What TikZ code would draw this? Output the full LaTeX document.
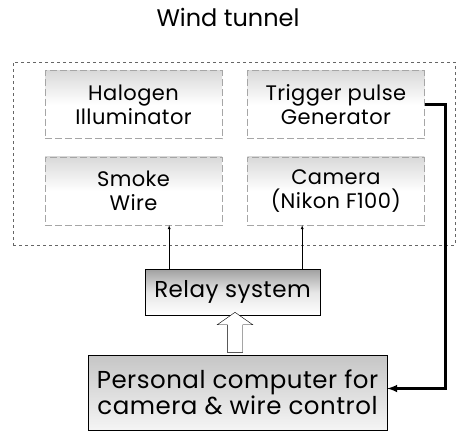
\documentclass[tikz,border=0pt]{standalone}
\usepackage{fontspec}
\setmainfont{Poppins}
\usepackage{tikz}
\usetikzlibrary{shapes,arrows,positioning,fit,calc}

\begin{document}
\begin{tikzpicture}[
  x=1pt,y=1pt,
  node distance=18pt and 25pt,
  every node/.style={font=\fontsize{21}{24}\selectfont\addfontfeature{LetterSpace=2}},
  unit/.style={rectangle,align=center,draw=gray!70,dash pattern=on 7pt off 3pt,thin,top color=gray!30,bottom color=white,middle color=white,minimum width=177pt,minimum height=68pt,inner sep=2pt},
  relaybox/.style={rectangle,align=center,draw=black,thin,top color=gray!75,bottom color=white,middle color=white!80!gray,minimum width=175pt,minimum height=46pt,inner sep=2pt,font=\fontsize{23}{26}\selectfont\addfontfeature{LetterSpace=2}},
  pcbox/.style={rectangle,align=center,draw=black,thin,top color=gray!45,bottom color=gray!8,minimum width=299pt,minimum height=75pt,inner sep=2pt,font=\fontsize{24.5}{25}\selectfont\addfontfeature{LetterSpace=2}},
  arrow/.style={->,>=latex,thin},
  bigarrow/.style={-latex,line width=2.4pt}
]
\useasboundingbox (0,0) rectangle (458,-432);

\node[font=\fontsize{24}{26}\selectfont] (title) at (228,-17) {Wind tunnel};

\node[unit] (halogen) at (133.5,-104.5) {Halogen\\Illuminator};
\node[unit,right=of halogen] (trigger) {Trigger pulse\\Generator};
\node[unit,below=of halogen] (smoke) {Smoke\\Wire};
\node[unit,below=of trigger] (camera) {Camera\\(Nikon F100)};

% wind tunnel frame
\node[draw=gray!80!black,dashed,thin,fit={(13,-62) (455,-245)},inner sep=0pt] (tunnel) {};

\node[relaybox] (relay) at (232.5,-292) {Relay system};
\node[pcbox] (pc) at (237.5,-392.5) {Personal computer for\\camera \& wire control};

\draw[arrow] (relay.north -| smoke.south east) ++(-53,0) coordinate (r1) -- (r1 |- smoke.south);
\draw[arrow] (relay.north -| camera.south west) ++(55,0) coordinate (r2) -- (r2 |- camera.south);

\node[single arrow,draw=black,fill=white,thin,rotate=90,inner sep=7.5pt,single arrow head extend=10pt,single arrow tip angle=110,minimum height=40pt]
  (link) at ($(relay.south)!0.5!(pc.north)$) {};

\draw[bigarrow] (trigger.east) -- ++(21,0) coordinate (t1) |- ($(pc.east)+(0,4)$);
\end{tikzpicture}
\end{document}
